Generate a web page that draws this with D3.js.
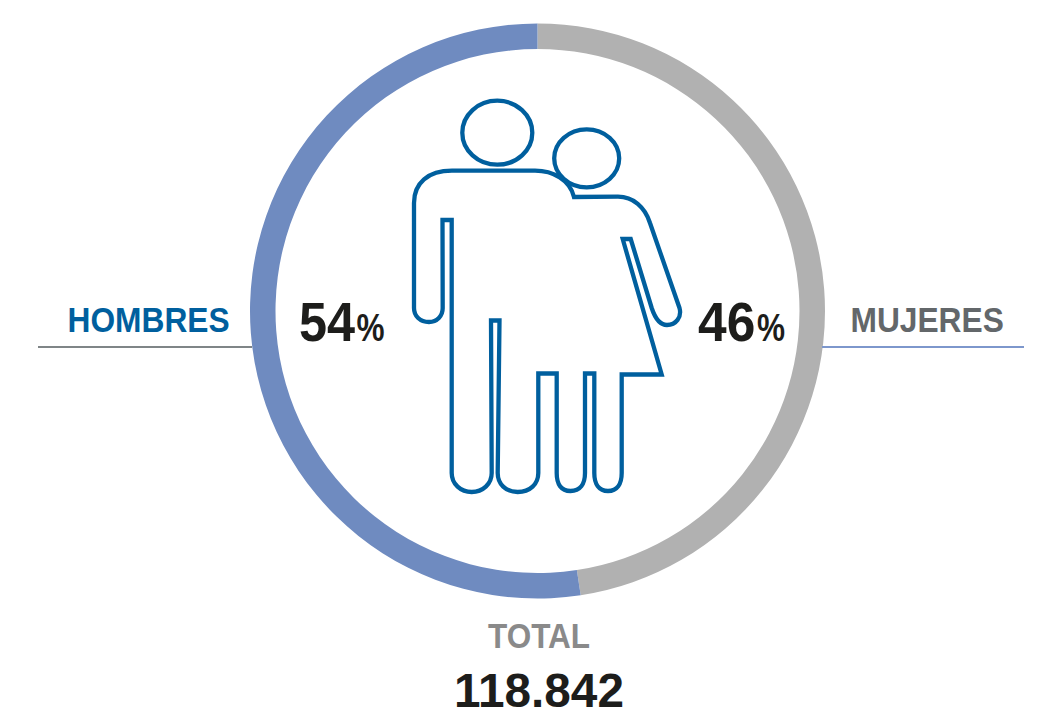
<!DOCTYPE html>
<html>
<head>
<meta charset="utf-8">
<script src="https://cdn.jsdelivr.net/npm/d3@7"></script>
<style>
html,body{margin:0;padding:0;background:#fff;overflow:hidden}
text{font-family:"Liberation Sans",Arial,sans-serif;font-weight:bold}
</style>
</head>
<body>
<svg id="chart" width="1057" height="720"></svg>
<script>
const categories = ["MUJERES", "HOMBRES"];
const percentLabels = [46, 54];
const ringShares = [47.6, 52.4];
const totalLabel = "TOTAL";
const totalValue = "118.842";
const ringColors = ["#b1b1b1", "#6f8bc0"];

const svg = d3.select("#chart");
const cx = 537.5, cy = 311;

const pie = d3.pie().sort(null).value(d => d);
const arc = d3.arc().innerRadius(262).outerRadius(287.5);
svg.append("g").attr("transform", `translate(${cx},${cy})`)
  .selectAll("path").data(pie(ringShares)).join("path")
  .attr("d", arc).attr("fill", (d, i) => ringColors[i]);

svg.append("line").attr("x1", 38).attr("x2", 252).attr("y1", 347).attr("y2", 347)
  .attr("stroke", "#7f8587").attr("stroke-width", 2);
svg.append("line").attr("x1", 822).attr("x2", 1024).attr("y1", 347).attr("y2", 347)
  .attr("stroke", "#7d97cc").attr("stroke-width", 2);

function label(str, x, y, size, sx, fill) {
  return svg.append("text")
    .attr("transform", `translate(${x},${y}) scale(${sx},1)`)
    .attr("font-size", size).attr("fill", fill).text(str);
}
label(categories[1], 67.5, 332, 34.5, 0.92, "#005f9e");
label(categories[0], 850.5, 332, 34.5, 0.92, "#63676a");
label(percentLabels[1], 299, 341, 56, 0.9, "#1d1d1b");
label("%", 356.5, 341, 38, 0.83, "#1d1d1b");
label(percentLabels[0], 698, 341, 56, 0.92, "#1d1d1b");
label("%", 757, 341, 38, 0.83, "#1d1d1b");
label(totalLabel, 488, 648, 35, 0.9, "#8a8a8a");
label(totalValue, 454, 707, 48, 0.995, "#1d1d1b");

const icon = svg.append("g").attr("fill", "none").attr("stroke", "#005f9e")
  .attr("stroke-width", 4.3).attr("stroke-linejoin", "miter");
icon.append("ellipse").attr("cx", 497.3).attr("cy", 132.7).attr("rx", 35).attr("ry", 32);
icon.append("ellipse").attr("cx", 586.7).attr("cy", 158.3).attr("rx", 32.5).attr("ry", 29);
icon.append("path").attr("d", [
  "M442.5,220 L451.7,220 L451.7,473",
  "C451.7,484 460.7,492 471.7,492 C482.7,492 491.7,484 491.7,473",
  "L491,320.5 L499.5,320.5 L497.7,473",
  "C497.7,484 505.7,492 517.7,492 C530,492 538.3,484 538.3,473",
  "L538.3,373.5 L556.7,373.5 L556.7,473",
  "C556.7,484 561,491 570.5,491 C580,491 585,484 585,473",
  "L585,373.5 L594.3,373.5 L594.3,473",
  "C594.3,484 599,491 608,491 C617,491 621.7,484 621.7,473",
  "L621.7,374.5 L661.7,374.5 L622.7,239 L630.7,239 L651.7,308",
  "C655,318 660,325 667,325 C676,325 682,317 679.5,308",
  "L650,223 C645,207 633,196.7 618,196.7 L574,197",
  "C570,180 553,170.7 535,170.7 L452,170.7",
  "C428,170.7 414,183 414,203 L414,308",
  "C414,316 420,322 429,322 C437,322 442.7,316 442.7,308 Z"
].join(" "));
</script>
</body>
</html>
